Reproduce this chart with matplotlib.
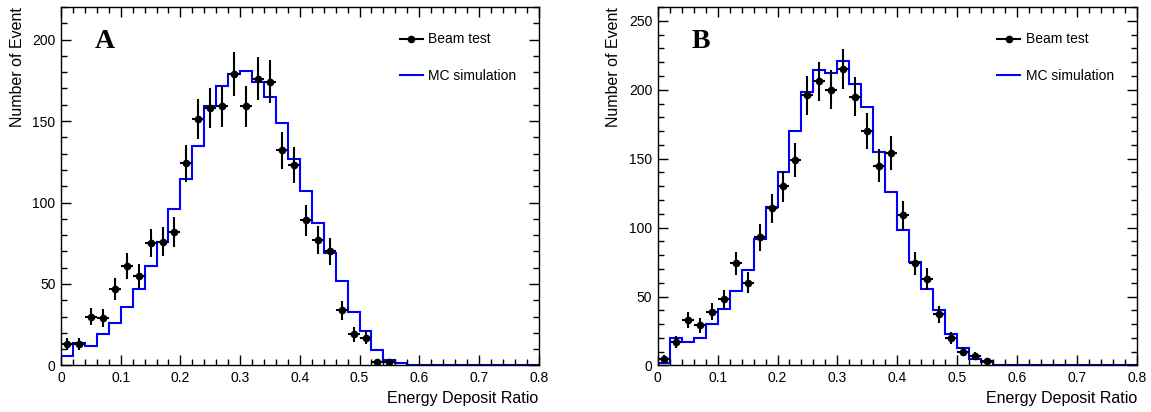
import numpy as np
import matplotlib
matplotlib.use("Agg")
import matplotlib.pyplot as plt
from matplotlib.ticker import MultipleLocator
from matplotlib.lines import Line2D

plt.rcParams['font.family'] = ['Liberation Sans', 'DejaVu Sans']

# bin layout: 40 bins of 0.02 from 0 to 0.8
edges = np.linspace(0, 0.8, 41)
centers = [0.01, 0.03, 0.05, 0.07, 0.09, 0.11, 0.13, 0.15, 0.17, 0.19,
           0.21, 0.23, 0.25, 0.27, 0.29, 0.31, 0.33, 0.35, 0.37, 0.39,
           0.41, 0.43, 0.45, 0.47, 0.49, 0.51, 0.53, 0.55]

# panel A
beam_a = [13, 13, 30, 29, 47, 61, 55, 75, 76, 82,
          124, 151, 158, 159, 179, 159, 176, 174, 132, 123,
          89, 77, 70, 34, 19, 17, 2, 2]
mc_a = [6, 14, 12, 19, 26, 36, 47, 61, 76, 96,
        114.5, 134.5, 159, 171.5, 179, 181, 174, 165, 149, 127,
        107, 87.5, 69, 52, 33, 21, 9.4, 3.3, 1.2, 0,
        0, 0, 0, 0, 0, 0, 0, 0, 0, 0]

# panel B
beam_b = [5, 17, 33, 29, 39, 48, 74, 60, 93, 114,
          130, 149, 196, 206, 200, 215, 195, 170, 145, 154,
          109, 74, 63, 37, 20, 10, 7, 3]
mc_b = [2, 20, 16.7, 20, 30, 41, 54, 69.5, 91.7, 114.7,
        140, 170, 198.5, 214, 212, 220.5, 204, 187.6, 155, 126,
        98.5, 75, 55.4, 40, 22.5, 12.3, 4.6, 2.7, 0, 0,
        0, 0, 0, 0, 0, 0, 0, 0, 0, 0]

panels = [("A", beam_a, mc_a, 220, [0.053, 0.113, 0.415, 0.870]),
          ("B", beam_b, mc_b, 260, [0.5714, 0.113, 0.4164, 0.870])]

fig = plt.figure(figsize=(11.51, 4.12), dpi=100)

for tag, beam, mc, ymax, rect in panels:
    ax = fig.add_axes(rect)
    ax.stairs(mc, edges, color='blue', lw=1.5)
    ax.errorbar(centers, beam, yerr=np.sqrt(beam), xerr=0.01, fmt='o',
                color='black', ms=4.5, elinewidth=1.5, capsize=0)

    ax.set_xlim(0, 0.8)
    ax.set_ylim(0, ymax)
    ax.xaxis.set_major_locator(MultipleLocator(0.1))
    ax.xaxis.set_minor_locator(MultipleLocator(0.02))
    ax.yaxis.set_major_locator(MultipleLocator(50))
    ax.yaxis.set_minor_locator(MultipleLocator(10))
    ax.xaxis.set_major_formatter(lambda v, p: "0" if abs(v) < 1e-9 else f"{v:.1f}")
    ax.tick_params(which='both', direction='in', top=True, right=True,
                   labelsize=10, width=1)
    ax.tick_params(which='major', length=7, pad=4)
    ax.tick_params(which='minor', length=4)
    for s in ax.spines.values():
        s.set_linewidth(1)

    ax.set_xlabel("Energy Deposit Ratio", fontsize=11.5, loc='right')
    ax.xaxis.set_label_coords(1.0, -0.072)
    ax.set_ylabel("Number of Event", fontsize=11.5, loc='top')
    ax.yaxis.set_label_coords(-0.076, 1.0)

    ax.text(0.071, 0.904, tag, transform=ax.transAxes, fontsize=20,
            fontweight='bold', family='Liberation Serif', va='center', ha='left')

    handles = [Line2D([], [], color='black', marker='o', ms=4.5, lw=1.5),
               Line2D([], [], color='blue', lw=1.5)]
    ax.legend(handles, ["Beam test", "MC simulation"], loc='upper left',
              bbox_to_anchor=(0.709, 0.929), frameon=False, fontsize=10,
              borderpad=0, borderaxespad=0, handlelength=1.65,
              handletextpad=0.4, labelspacing=1.6)

fig.savefig("out.png", dpi=100)
